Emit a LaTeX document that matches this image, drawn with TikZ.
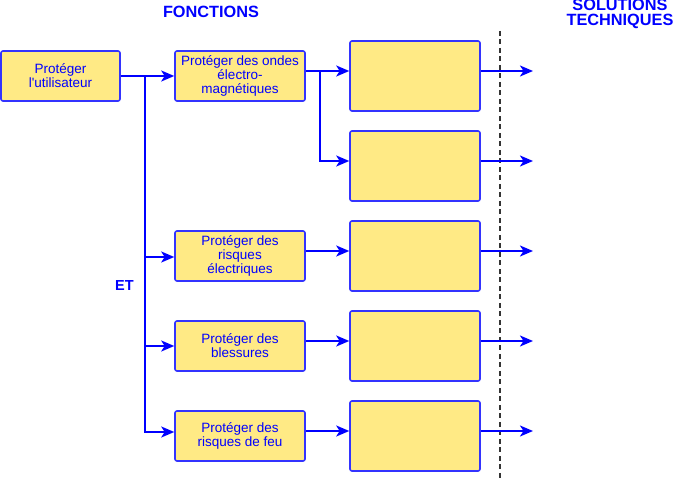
\documentclass[tikz,border=0pt]{standalone}
\usepackage{fontspec}
\setmainfont{Liberation Sans}
\usetikzlibrary{arrows.meta}
\definecolor{bl}{HTML}{0000FF}
\definecolor{bbord}{HTML}{3333FF}
\definecolor{yfill}{HTML}{FFEA85}
\definecolor{dgray}{HTML}{333333}
\tikzset{
  box/.style={draw=bbord, line width=1.6pt, fill=yfill, rounded corners=2pt,
    inner sep=0pt, align=center, text=bl, font=\fontsize{13.5}{14}\selectfont},
  fbox/.style={box, minimum width=130pt, minimum height=50pt},
  sbox/.style={box, minimum width=130pt, minimum height=70pt},
  conn/.style={draw=bl, line width=2pt},
  arr/.style={conn, -{Stealth[length=13pt,width=11pt,inset=3.5pt]}},
  title/.style={text=bl, font=\bfseries\fontsize{16.3}{15}\selectfont, align=center, inner sep=0pt}
}
\begin{document}
\begin{tikzpicture}[x=1pt,y=-1pt]
\useasboundingbox (0,0) rectangle (673,481);
% titles
\node[title] (tf) at (211,12) {FONCTIONS};
\node[title] (ts) at (620,14) {SOLUTIONS\\TECHNIQUES};
\node[title, font=\bfseries\fontsize{14.5}{14}\selectfont] (et) at (124.5,286) {ET};
% boxes
\node[box, minimum width=119pt, minimum height=50pt] (A) at (60.5,76) {Protéger\\l\textquotesingle utilisateur};
\node[fbox] (F1) at (240,76) {Protéger des ondes\\électro-\\magnétiques};
\node[fbox] (F2) at (240,256) {Protéger des\\risques\\électriques};
\node[fbox] (F3) at (240,346) {Protéger des\\blessures};
\node[fbox] (F4) at (240,436) {Protéger des\\risques de feu};
\node[sbox] (S1) at (415,76) {};
\node[sbox] (S2) at (415,166) {};
\node[sbox] (S3) at (415,256) {};
\node[sbox] (S4) at (415,346) {};
\node[sbox] (S5) at (415,436) {};
% dashed separator
\coordinate (d1) at (500,31);
\coordinate (d2) at (500,481);
\draw[dgray, line width=1.4pt, dash pattern=on 5pt off 3.5pt] (d1) -- (d2);
% trunk
\coordinate (t0) at (145,76);
\draw[arr] (A.east) -- (F1.west);
\draw[arr] (t0) |- ([yshift=-1pt]F2.west);
\draw[arr] (t0) |- (F3.west);
\draw[arr] (t0) |- ([yshift=4pt]F4.west);
% F to S
\coordinate (b1) at (320,71);
\draw[arr] ([yshift=5pt]F1.east) -- ([yshift=5pt]S1.west);
\draw[arr] (b1) |- ([yshift=5pt]S2.west);
\draw[arr] ([yshift=5pt]F2.east) -- ([yshift=5pt]S3.west);
\draw[arr] ([yshift=5pt]F3.east) -- ([yshift=5pt]S4.west);
\draw[arr] ([yshift=5pt]F4.east) -- ([yshift=5pt]S5.west);
% outputs
\coordinate (o1) at (533,71);
\coordinate (o2) at (533,161);
\coordinate (o3) at (533,251);
\coordinate (o4) at (533,341);
\coordinate (o5) at (533,431);
\draw[arr] ([yshift=5pt]S1.east) -- (o1);
\draw[arr] ([yshift=5pt]S2.east) -- (o2);
\draw[arr] ([yshift=5pt]S3.east) -- (o3);
\draw[arr] ([yshift=5pt]S4.east) -- (o4);
\draw[arr] ([yshift=5pt]S5.east) -- (o5);
\end{tikzpicture}
\end{document}
